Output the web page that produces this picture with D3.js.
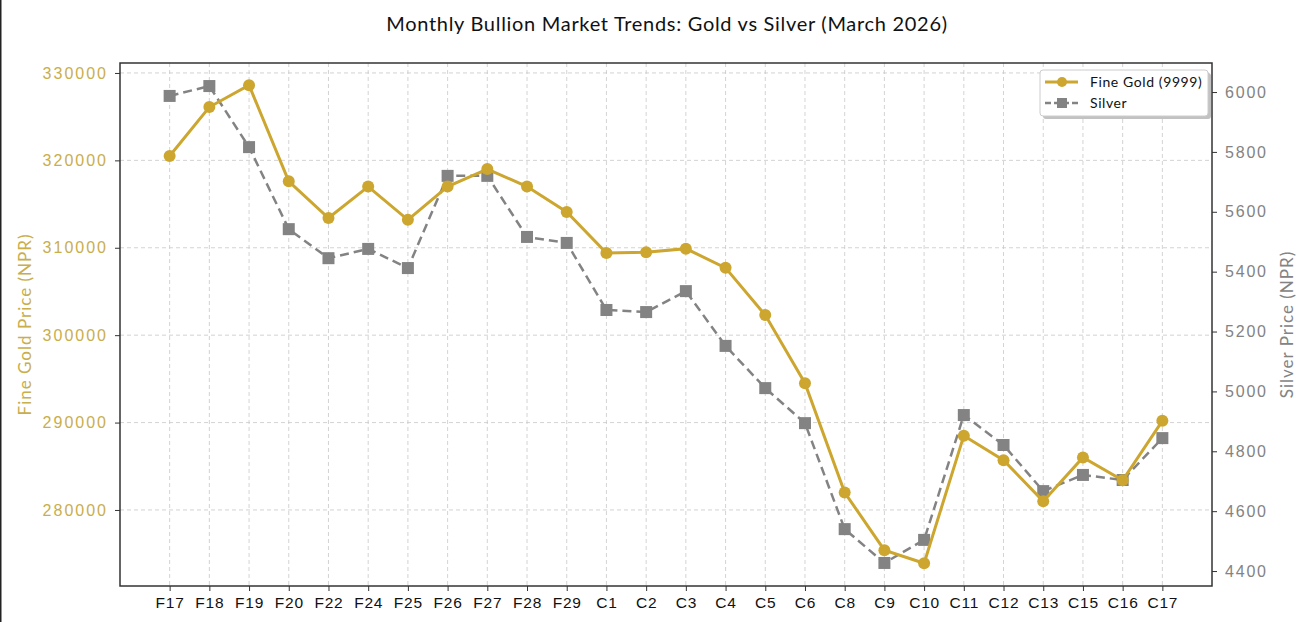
<!DOCTYPE html>
<html>
<head>
<meta charset="utf-8">
<script src="https://cdn.jsdelivr.net/npm/d3@7"></script>
<style>
  body { margin: 0; background: #fff; }
  svg { font-family: "Lato", "Open Sans", sans-serif; }
</style>
</head>
<body>
<script>
const width = 1307;
const height = 622;

// data
const dates = ["F17", "F18", "F19", "F20", "F22", "F24", "F25", "F26", "F27", "F28", "F29",
  "C1", "C2", "C3", "C4", "C5", "C6", "C8", "C9", "C10", "C11", "C12", "C13", "C15", "C16", "C17"];
const gold = [320500, 326100, 328600, 317600, 313400, 317000, 313200, 317000, 319000, 317000, 314100,
  309400, 309500, 309900, 307700, 302300, 294500, 282000, 275400, 273900, 288500, 285700, 281000, 286000, 283400, 290200];
const silver = [5987, 6020, 5816, 5542, 5445, 5476, 5412, 5720, 5720, 5516, 5496,
  5272, 5265, 5335, 5152, 5011, 4894, 4540, 4427, 4504, 4921, 4821, 4667, 4721, 4704, 4844];
const goldTicks = [280000, 290000, 300000, 310000, 320000, 330000];
const silverTicks = [4400, 4600, 4800, 5000, 5200, 5400, 5600, 5800, 6000];

const goldColor = "#cca62e";
const goldText = "#c9ae4c";
const silverColor = "#838383";

const m = { left: 120, right: 1212, top: 63, bottom: 586 };

const svg = d3.select("body").append("svg")
  .attr("width", width)
  .attr("height", height);

// left edge line seen in the picture
svg.append("line").attr("x1", 0.75).attr("x2", 0.75).attr("y1", 0).attr("y2", height)
  .attr("stroke", "#222").attr("stroke-width", 1.5);

const n = dates.length;
const x = d3.scaleLinear()
  .domain([-0.05 * (n - 1), (n - 1) * 1.05])
  .range([m.left, m.right]);
const yGold = d3.scaleLinear().domain([271300, 331140]).range([m.bottom, m.top]);
const ySilver = d3.scaleLinear().domain([4350, 6097]).range([m.bottom, m.top]);

// grid
const grid = svg.append("g").attr("stroke", "#c8c8c8").attr("stroke-dasharray", "4,3").attr("stroke-width", 0.8);
grid.selectAll(".gx").data(dates).join("line")
  .attr("x1", (d, i) => x(i)).attr("x2", (d, i) => x(i))
  .attr("y1", m.top).attr("y2", m.bottom);
grid.selectAll(".gy").data(goldTicks).join("line")
  .attr("x1", m.left).attr("x2", m.right)
  .attr("y1", d => yGold(d)).attr("y2", d => yGold(d));

// axes
const xAxis = svg.append("g")
  .attr("transform", `translate(0,${m.bottom})`)
  .call(d3.axisBottom(x).tickValues(d3.range(n)).tickFormat(i => dates[i]).tickSize(5).tickPadding(6));
xAxis.select(".domain").remove();
xAxis.selectAll("text").attr("font-size", 15.5).attr("letter-spacing", "0.8px").attr("fill", "#111");
xAxis.selectAll("line").attr("stroke", "#333");

const yL = svg.append("g")
  .attr("transform", `translate(${m.left},0)`)
  .call(d3.axisLeft(yGold).tickValues(goldTicks).tickFormat(d3.format("d")).tickSize(5).tickPadding(7));
yL.select(".domain").remove();
yL.selectAll("text").attr("font-size", 16).attr("letter-spacing", "2px").attr("fill", goldText);
yL.selectAll("line").attr("stroke", "#333");

const yR = svg.append("g")
  .attr("transform", `translate(${m.right},0)`)
  .call(d3.axisRight(ySilver).tickValues(silverTicks).tickFormat(d3.format("d")).tickSize(5).tickPadding(8));
yR.select(".domain").remove();
yR.selectAll("text").attr("font-size", 16).attr("letter-spacing", "1.8px").attr("fill", silverColor);
yR.selectAll("line").attr("stroke", "#333");

// frame
svg.append("rect")
  .attr("x", m.left).attr("y", m.top)
  .attr("width", m.right - m.left).attr("height", m.bottom - m.top)
  .attr("fill", "none").attr("stroke", "#333").attr("stroke-width", 1.5);

// silver line
svg.append("path")
  .datum(silver)
  .attr("fill", "none")
  .attr("stroke", silverColor)
  .attr("stroke-width", 2.5)
  .attr("stroke-dasharray", "9,5")
  .attr("d", d3.line().x((d, i) => x(i)).y(d => ySilver(d)));
svg.selectAll(".sq").data(silver).join("rect")
  .attr("x", (d, i) => x(i) - 6).attr("y", d => ySilver(d) - 6)
  .attr("width", 12).attr("height", 12)
  .attr("fill", silverColor);

// gold line
svg.append("path")
  .datum(gold)
  .attr("fill", "none")
  .attr("stroke", goldColor)
  .attr("stroke-width", 3)
  .attr("d", d3.line().x((d, i) => x(i)).y(d => yGold(d)));
svg.selectAll(".dot").data(gold).join("circle")
  .attr("cx", (d, i) => x(i)).attr("cy", d => yGold(d))
  .attr("r", 6)
  .attr("fill", goldColor);

// titles
svg.append("text")
  .attr("x", 667).attr("y", 31)
  .attr("text-anchor", "middle")
  .attr("font-size", 20)
  .attr("letter-spacing", "0.7px")
  .attr("fill", "#111")
  .text("Monthly Bullion Market Trends: Gold vs Silver (March 2026)");

svg.append("text")
  .attr("transform", `translate(31,${(m.top + m.bottom) / 2}) rotate(-90)`)
  .attr("text-anchor", "middle")
  .attr("font-size", 17)
  .attr("letter-spacing", "1px")
  .attr("fill", goldText)
  .text("Fine Gold Price (NPR)");

svg.append("text")
  .attr("transform", `translate(1293,${(m.top + m.bottom) / 2}) rotate(-90)`)
  .attr("text-anchor", "middle")
  .attr("font-size", 17)
  .attr("letter-spacing", "1px")
  .attr("fill", silverColor)
  .text("Silver Price (NPR)");

// axis title, mostly below the picture's bottom edge as in the reference
svg.append("text")
  .attr("x", 669).attr("y", 634)
  .attr("text-anchor", "middle")
  .attr("font-size", 16)
  .attr("letter-spacing", "0.5px")
  .attr("fill", "#111")
  .text("Date (Falgun/Chaitra)");

// legend
const lg = svg.append("g").attr("transform", "translate(1040,70)");
lg.append("rect").attr("x", 3).attr("y", 3).attr("width", 168).attr("height", 46)
  .attr("rx", 3).attr("fill", "#999").attr("opacity", 0.6);
lg.append("rect").attr("x", 0).attr("y", 0).attr("width", 168).attr("height", 46)
  .attr("rx", 3).attr("fill", "#fff").attr("stroke", "#ccc");
const items = [
  { label: "Fine Gold (9999)", color: goldColor, dash: null, shape: "circle" },
  { label: "Silver", color: silverColor, dash: "6,3", shape: "square" }
];
items.forEach((it, i) => {
  const g = lg.append("g").attr("transform", `translate(0,${12 + i * 21})`);
  g.append("line").attr("x1", 5).attr("x2", 38).attr("y1", 0).attr("y2", 0)
    .attr("stroke", it.color).attr("stroke-width", it.shape === "circle" ? 3 : 2.5)
    .attr("stroke-dasharray", it.dash);
  if (it.shape === "circle") {
    g.append("circle").attr("cx", 22).attr("cy", 0).attr("r", 5).attr("fill", it.color);
  } else {
    g.append("rect").attr("x", 17).attr("y", -5).attr("width", 10).attr("height", 10).attr("fill", it.color);
  }
  g.append("text").attr("x", 50).attr("y", 5).attr("font-size", 14).attr("letter-spacing", "0.6px")
    .attr("fill", "#111").text(it.label);
});
</script>
</body>
</html>
